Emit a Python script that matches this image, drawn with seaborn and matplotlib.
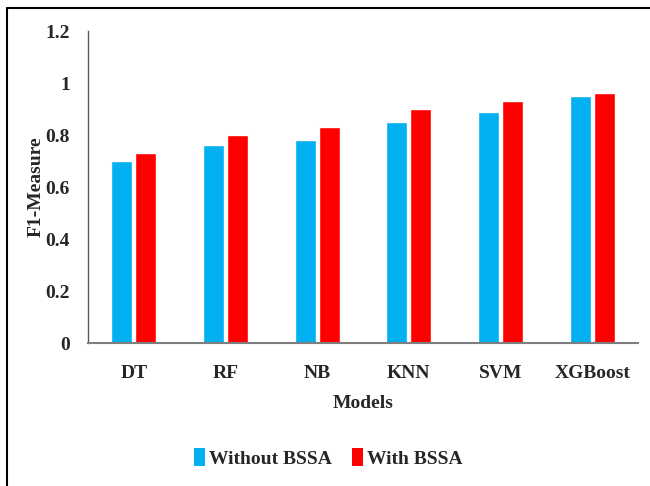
import matplotlib
matplotlib.use("Agg")
import matplotlib.pyplot as plt
import seaborn as sns
import pandas as pd
from matplotlib.patches import Patch
from matplotlib.lines import Line2D

models = ["DT", "RF", "NB", "KNN", "SVM", "XGBoost"]
without_bssa = [0.70, 0.76, 0.78, 0.85, 0.89, 0.95]
with_bssa = [0.73, 0.80, 0.83, 0.90, 0.93, 0.96]
series_names = ["Without BSSA", "With BSSA"]
yticks = [0, 0.2, 0.4, 0.6, 0.8, 1.0, 1.2]
ytick_labels = ["0", "0.2", "0.4", "0.6", "0.8", "1", "1.2"]
colors = ["#00B0F0", "#FF0000"]

df = pd.DataFrame({
    "Model": models * 2,
    "Value": without_bssa + with_bssa,
    "Series": [series_names[0]] * len(models) + [series_names[1]] * len(models),
})

sns.set_style("white")
plt.rcParams["font.family"] = ["Liberation Serif", "DejaVu Serif"]
plt.rcParams["font.weight"] = "bold"

FS = 14

fig = plt.figure(figsize=(6.5, 4.86), dpi=100)
ax = fig.add_axes([88/650, 1-343/486, (638-88)/650, (343-31)/486])

sns.barplot(data=df, x="Model", y="Value", hue="Series", palette=colors,
            width=0.52, gap=0.12, ax=ax, legend=False, saturation=1)

ax.set_ylim(0, 1.2)
ax.set_xlim(-0.5, len(models) - 0.5)
ax.set_yticks(yticks)
ax.set_yticklabels(ytick_labels)
ax.tick_params(axis="y", length=0, pad=13, labelsize=FS)
ax.tick_params(axis="x", length=0, pad=16, labelsize=FS)
for lab in ax.get_xticklabels() + ax.get_yticklabels():
    lab.set_fontweight("bold")
ax.set_xlabel("Models", fontsize=FS, fontweight="bold", labelpad=9)
ax.set_ylabel("F1-Measure", fontsize=FS, fontweight="bold")
ax.yaxis.set_label_coords(-0.078, 0.5)

for s in ["top", "right"]:
    ax.spines[s].set_visible(False)
ax.spines["left"].set_color("#595959")
ax.spines["bottom"].set_color("#7f7f7f")
ax.spines["left"].set_linewidth(1.0)
ax.spines["bottom"].set_linewidth(1.5)

handles = [Patch(facecolor=colors[0], edgecolor="none"),
           Patch(facecolor=colors[1], edgecolor="none")]
fig.legend(handles, series_names, loc="center", bbox_to_anchor=(0.505, 1-458/486),
           ncol=2, frameon=False, handlelength=0.6, handleheight=1.0,
           handletextpad=0.2, columnspacing=1.0,
           prop={"family": "Liberation Serif", "weight": "bold", "size": FS})

# outer border (left and top edges)
fig.add_artist(Line2D([6.5/650, 6.5/650], [0, 1-8.5/486], transform=fig.transFigure,
                      color="black", linewidth=1.5))
fig.add_artist(Line2D([6.5/650, 1.0], [1-8.5/486, 1-8.5/486], transform=fig.transFigure,
                      color="black", linewidth=1.5))

fig.savefig("out.png", dpi=100)
